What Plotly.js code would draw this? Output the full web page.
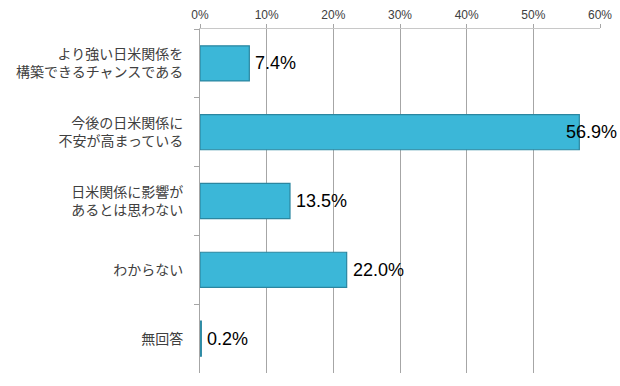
<!DOCTYPE html>
<html>
<head>
<meta charset="utf-8">
<script src="https://cdn.plot.ly/plotly-3.0.1.min.js"></script>
<style>html,body{margin:0;padding:0;background:#fff}#chart{width:620px;height:386px}</style>
</head>
<body>
<div id="chart"></div>
<script>
const categories = [
  "より強い日米関係を<br>構築できるチャンスである",
  "今後の日米関係に<br>不安が高まっている",
  "日米関係に影響が<br>あるとは思わない",
  "わからない",
  "無回答"
];
const values = [0.074, 0.569, 0.135, 0.220, 0.002];
const valueLabels = ["7.4%", "56.9%", "13.5%", "22.0%", "0.2%"];
const tickVals = [0, 0.1, 0.2, 0.3, 0.4, 0.5, 0.6];
const tickText = ["0%", "10%", "20%", "30%", "40%", "50%", "60%"];

const annotations = values.map((v, i) => {
  const inside = v > 0.5;
  return {
    x: v, y: categories[i], xref: 'x', yref: 'y',
    text: valueLabels[i], showarrow: false,
    xanchor: inside ? 'right' : 'left',
    xshift: inside ? 40 : 4,
    font: {family: 'Liberation Sans, Arial, sans-serif', size: 18, color: '#000'}
  };
});

const trace = {
  type: 'bar', orientation: 'h',
  x: values, y: categories,
  marker: {color: '#3BB7D8', line: {color: '#2B86A0', width: 1.2}},
  hoverinfo: 'skip'
};

const layout = {
  width: 620, height: 386,
  margin: {l: 200, r: 20, t: 29, b: 13},
  paper_bgcolor: '#fff', plot_bgcolor: '#fff',
  showlegend: false,
  bargap: 0.49,
  font: {family: 'Noto Sans CJK JP, sans-serif', color: '#404040'},
  xaxis: {
    side: 'top', range: [0, 0.6], tickvals: tickVals, ticktext: tickText,
    showgrid: true, gridcolor: '#A6A6A6', gridwidth: 1,
    showline: true, linecolor: '#C8C8C8', linewidth: 1,
    ticks: 'outside', ticklen: 4, tickcolor: '#A6A6A6',
    zeroline: false,
    tickfont: {family: 'Liberation Sans, Arial, sans-serif', size: 12, color: '#404040'}
  },
  yaxis: {
    type: 'category', autorange: 'reversed',
    showline: true, linecolor: '#A6A6A6', linewidth: 1,
    ticks: 'outside', tickson: 'boundaries', ticklen: 5, tickcolor: '#A6A6A6',
    showgrid: false,
    ticklabelstandoff: 13,
    tickfont: {family: 'Noto Sans CJK JP, sans-serif', size: 14, color: '#404040'}
  },
  annotations: annotations
};

Plotly.newPlot('chart', [trace], layout, {displayModeBar: false, staticPlot: true});
</script>
</body>
</html>
